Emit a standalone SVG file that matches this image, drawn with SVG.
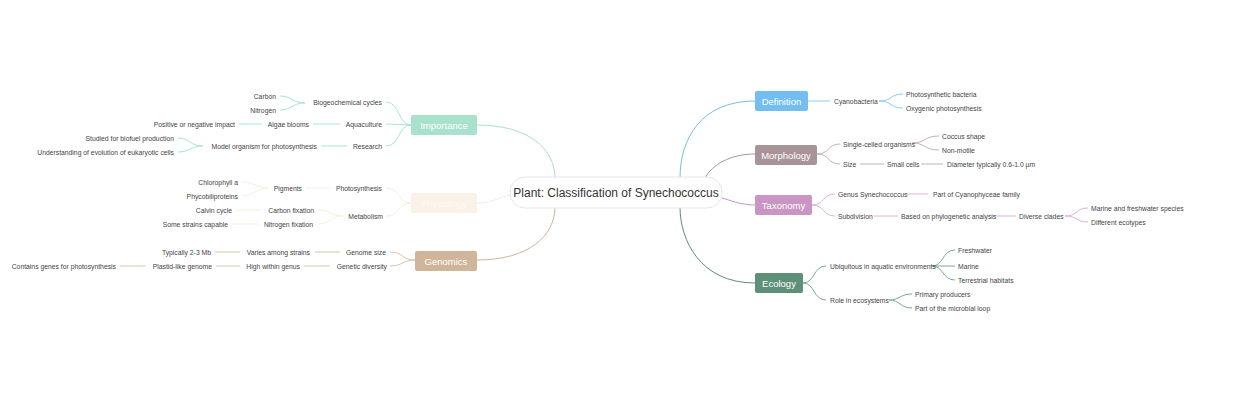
<svg xmlns="http://www.w3.org/2000/svg" width="1240" height="400" viewBox="0 0 1240 400">
<style>
text{font-family:"Liberation Sans",Arial,sans-serif;fill:#444;font-size:6.8px;dominant-baseline:central}
.r{text-anchor:end}
.b{font-size:9.5px;fill:#fff;text-anchor:middle}
.c path,.c line{fill:none;stroke-width:1}
.m{fill:none;stroke-width:3}
.imp{stroke:#a8e6d0}.phy{stroke:#f8eedf}.gen{stroke:#dcc3aa}.def{stroke:#8ecbf3}.mor{stroke:#c2b2b6}.tax{stroke:#deb2d6}.eco{stroke:#7da896}
</style>
<rect width="1240" height="400" fill="#fff"/>
<g id="connectors" class="c">
<path class="m imp" d="M477 125 C530 125 555 150 555 178" style="stroke:#a8e2cc"/>
<path class="m phy" d="M477 203 C495 203 500 196 512 195" style="stroke:#f7ecdf"/>
<path class="m gen" d="M477 260 C530 260 555 235 555 207" style="stroke:#d1b59a"/>
<path class="m def" d="M755 101 C700 101 680 140 680 178" style="stroke:#74bdf0"/>
<path class="m mor" d="M755 154 C730 154 712 165 705 178" style="stroke:#a89399"/>
<path class="m tax" d="M755 205 C740 205 730 200 722 198" style="stroke:#c995c2"/>
<path class="m eco" d="M755 283 C700 283 680 240 680 207" style="stroke:#5e8f78"/>
<!-- right -->
<line class="def" x1="808" y1="101" x2="830" y2="101"/>
<path class="def" d="M879 101 C892 101 890 94 903 94 M879 101 C892 101 890 108 903 108"/>
<path class="mor" d="M817 154 C830 154 827 144 840 144 M817 154 C830 154 827 164 840 164"/>
<path class="mor" d="M912 143 C926 143 924 136 939 136 M912 143 C926 143 924 150 939 150"/>
<line class="mor" x1="860" y1="164" x2="884" y2="164"/><line class="mor" x1="921" y1="164" x2="943" y2="164"/>
<path class="tax" d="M812 205 C825 205 822 194 835 194 M812 205 C825 205 822 216 835 216"/>
<line class="tax" x1="906" y1="194" x2="928" y2="194"/>
<line class="tax" x1="874" y1="216" x2="898" y2="216"/><line class="tax" x1="993" y1="216" x2="1016" y2="216"/>
<path class="tax" d="M1065 216 C1078 216 1075 208 1088 208 M1065 216 C1078 216 1075 222 1088 222"/>
<path class="eco" d="M803 283 C815 283 813 266 826 266 M803 283 C815 283 813 300 826 300"/>
<path class="eco" d="M932 266 C944 266 942 250 955 250 M932 266 L955 266 M932 266 C944 266 942 280 955 280"/>
<path class="eco" d="M889 300 C900 300 900 294 912 294 M889 300 C900 300 900 308 912 308"/>
<!-- left -->
<path class="imp" d="M411 125 C398 125 400 102 386 102 M411 125 L386 124 M411 125 C398 125 400 146 386 146"/>
<path class="imp" d="M305 103 C292 103 292 96 280 96 M305 103 C292 103 292 110 280 110"/>
<line class="imp" x1="313" y1="124" x2="340" y2="124"/><line class="imp" x1="239" y1="124" x2="262" y2="124"/>
<line class="imp" x1="321" y1="146" x2="347" y2="146"/>
<path class="imp" d="M203 146 C190 146 190 138 178 138 M203 146 C190 146 190 152 178 152"/>
<path class="phy" d="M411 203 C398 203 400 188 386 188 M411 203 C398 203 400 216 386 216"/>
<line class="phy" x1="306" y1="188" x2="330" y2="188"/>
<path class="phy" d="M268 188 C255 188 255 182 242 182 M268 188 C255 188 255 196 242 196"/>
<path class="phy" d="M343 216 C330 216 330 210 318 210 M343 216 C330 216 330 224 318 224"/>
<line class="phy" x1="236" y1="210" x2="262" y2="210"/><line class="phy" x1="232" y1="224" x2="258" y2="224"/>
<path class="gen" d="M415 260 C402 260 403 252 390 252 M415 260 C402 260 403 266 390 266"/>
<line class="gen" x1="315" y1="252" x2="340" y2="252"/><line class="gen" x1="215" y1="252" x2="240" y2="252"/>
<line class="gen" x1="304" y1="266" x2="330" y2="266"/><line class="gen" x1="216" y1="266" x2="240" y2="266"/>
<line class="gen" x1="120" y1="266" x2="146" y2="266"/>
</g>
<g id="center"><rect x="510" y="177" width="212" height="31" rx="15" fill="#fff" stroke="#e6e6e6"/><text x="616" y="192.5" style="font-size:12px;text-anchor:middle;fill:#333">Plant: Classification of Synechococcus</text></g>
<g id="definition"><rect x="755" y="91" width="53" height="20" rx="2" fill="#74bdf0"/><text class="b" x="781.5" y="101">Definition</text>
<text x="834" y="101">Cyanobacteria</text><text x="906" y="94">Photosynthetic bacteria</text><text x="906" y="108">Oxygenic photosynthesis</text></g>
<g id="morphology"><rect x="755" y="145" width="62" height="20" rx="2" fill="#a89399"/><text class="b" x="786" y="155">Morphology</text>
<text x="843" y="144">Single-celled organisms</text><text x="942" y="136">Coccus shape</text><text x="942" y="150">Non-motile</text>
<text x="843" y="164">Size</text><text x="887" y="164">Small cells</text><text x="947" y="164">Diameter typically 0.6-1.0 µm</text></g>
<g id="taxonomy"><rect x="755" y="195" width="57" height="20" rx="2" fill="#c995c2"/><text class="b" x="783.5" y="205">Taxonomy</text>
<text x="838" y="194">Genus Synechococcus</text><text x="933" y="194">Part of Cyanophyceae family</text>
<text x="838" y="216">Subdivision</text><text x="901" y="216">Based on phylogenetic analysis</text><text x="1019" y="216">Diverse clades</text>
<text x="1091" y="208">Marine and freshwater species</text><text x="1091" y="222">Different ecotypes</text></g>
<g id="ecology"><rect x="755" y="273" width="48" height="20" rx="2" fill="#5e8f78"/><text class="b" x="779" y="283">Ecology</text>
<text x="830" y="266">Ubiquitous in aquatic environments</text><text x="958" y="250">Freshwater</text><text x="958" y="266">Marine</text><text x="958" y="280">Terrestrial habitats</text>
<text x="830" y="300">Role in ecosystems</text><text x="915" y="294">Primary producers</text><text x="915" y="308">Part of the microbial loop</text></g>
<g id="importance"><rect x="411" y="115" width="66" height="20" rx="2" fill="#a8e2cc"/><text class="b" x="444" y="125">Importance</text>
<text class="r" x="382" y="102">Biogeochemical cycles</text><text class="r" x="276" y="96">Carbon</text><text class="r" x="276" y="110">Nitrogen</text>
<text class="r" x="382" y="124">Aquaculture</text><text class="r" x="309" y="124">Algae blooms</text><text class="r" x="235" y="124">Positive or negative impact</text>
<text class="r" x="382" y="146">Research</text><text class="r" x="317" y="146">Model organism for photosynthesis</text><text class="r" x="174" y="138">Studied for biofuel production</text><text class="r" x="174" y="152">Understanding of evolution of eukaryotic cells</text></g>
<g id="physiology"><rect x="411" y="193" width="66" height="20" rx="2" fill="#faf2e8"/><text class="b" x="444" y="203" style="fill:#fdfaf5">Physiology</text>
<text class="r" x="382" y="188">Photosynthesis</text><text class="r" x="302" y="188">Pigments</text><text class="r" x="238" y="182">Chlorophyll a</text><text class="r" x="238" y="196">Phycobiliproteins</text>
<text class="r" x="383" y="216">Metabolism</text><text class="r" x="314" y="210">Carbon fixation</text><text class="r" x="313" y="224">Nitrogen fixation</text><text class="r" x="232" y="210">Calvin cycle</text><text class="r" x="228" y="224">Some strains capable</text></g>
<g id="genomics"><rect x="415" y="251" width="62" height="20" rx="2" fill="#d1b59a"/><text class="b" x="446" y="261">Genomics</text>
<text class="r" x="386" y="252">Genome size</text><text class="r" x="310" y="252">Varies among strains</text><text class="r" x="211" y="252">Typically 2-3 Mb</text>
<text class="r" x="387" y="266">Genetic diversity</text><text class="r" x="300" y="266">High within genus</text><text class="r" x="212" y="266">Plastid-like genome</text><text class="r" x="116" y="266">Contains genes for photosynthesis</text></g>
</svg>
